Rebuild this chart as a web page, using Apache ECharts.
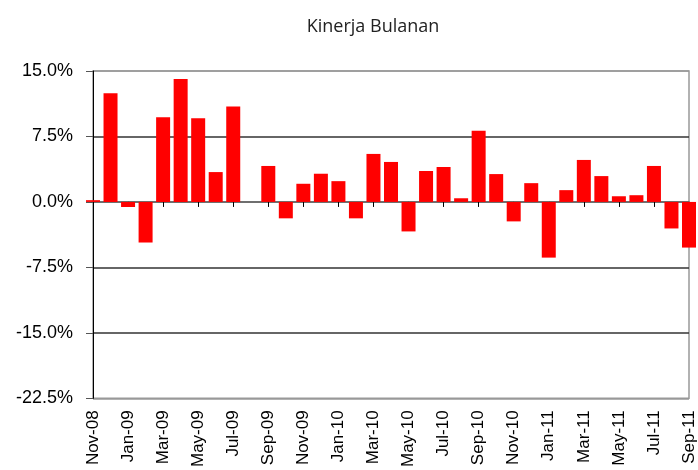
<!DOCTYPE html>
<html>
<head>
<meta charset="utf-8">
<script src="https://cdn.jsdelivr.net/npm/echarts@6/dist/echarts.min.js"></script>
<style>
  html, body { margin: 0; padding: 0; background: #fff; }
  #chart { width: 698px; height: 470px; }
</style>
</head>
<body>
<div id="chart"></div>
<script>
// 데이터
var months = [
  'Nov-08', 'Dec-08', 'Jan-09', 'Feb-09', 'Mar-09', 'Apr-09', 'May-09', 'Jun-09', 'Jul-09', 'Aug-09',
  'Sep-09', 'Oct-09', 'Nov-09', 'Dec-09', 'Jan-10', 'Feb-10', 'Mar-10', 'Apr-10', 'May-10', 'Jun-10',
  'Jul-10', 'Aug-10', 'Sep-10', 'Oct-10', 'Nov-10', 'Dec-10', 'Jan-11', 'Feb-11', 'Mar-11', 'Apr-11',
  'May-11', 'Jun-11', 'Jul-11', 'Aug-11', 'Sep-11'
];

var returns = [
  0.2, 12.46, -0.58, -4.65, 9.69, 14.08, 9.58, 3.42, 10.92, 0,
  4.12, -1.88, 2.08, 3.23, 2.38, -1.88, 5.5, 4.58, -3.38, 3.54,
  4.0, 0.42, 8.15, 3.19, -2.23, 2.15, -6.38, 1.35, 4.81, 2.96,
  0.65, 0.77, 4.12, -3.04, -5.23
];

var yTicks = { min: -22.5, max: 15, interval: 7.5 };

// 차트 생성
var chart = echarts.init(document.getElementById('chart'));

var option = {
  animation: false,
  title: {
    text: 'Kinerja Bulanan',
    left: 368,
    textAlign: 'center',
    top: 13,
    textStyle: {
      fontFamily: 'Open Sans',
      fontWeight: 'normal',
      fontSize: 18,
      color: '#222'
    }
  },
  grid: {
    left: 93,
    right: 9,
    top: 71,
    bottom: 71,
    show: true,
    borderColor: '#999',
    borderWidth: 1.5
  },
  xAxis: [{
    type: 'category',
    data: months,
    position: 'bottom',
    boundaryGap: false,
    axisLine: { show: false, onZero: false },
    axisTick: { show: false },
    splitLine: { show: false },
    axisLabel: {
      interval: 1,
      rotate: 90,
      margin: 12,
      fontFamily: 'Liberation Sans',
      fontSize: 17,
      color: '#000'
    }
  }, {
    type: 'category',
    data: months,
    position: 'top',
    boundaryGap: false,
    axisLine: {
      onZero: true,
      lineStyle: { color: '#666', width: 1.5 }
    },
    axisTick: {
      interval: 1,
      inside: true,
      length: 5,
      lineStyle: { color: '#000' }
    },
    axisLabel: { show: false },
    splitLine: { show: false }
  }],
  yAxis: {
    type: 'value',
    min: yTicks.min,
    max: yTicks.max,
    interval: yTicks.interval,
    axisLine: { show: true, lineStyle: { color: '#000' } },
    axisTick: { show: true, length: 7, lineStyle: { color: '#555' } },
    axisLabel: {
      margin: 20,
      fontFamily: 'Liberation Sans',
      fontSize: 18,
      color: '#000',
      formatter: function (v) { return v.toFixed(1) + '%'; }
    },
    splitLine: {
      lineStyle: {
        color: ['#999', '#333', '#333', '#666', '#333', '#999'],
        width: 1.5
      }
    }
  },
  series: [{
    type: 'bar',
    xAxisIndex: 0,
    data: returns,
    barWidth: 14,
    clip: true,
    itemStyle: { color: '#FF0000' }
  }]
};

chart.setOption(option);
</script>
</body>
</html>
